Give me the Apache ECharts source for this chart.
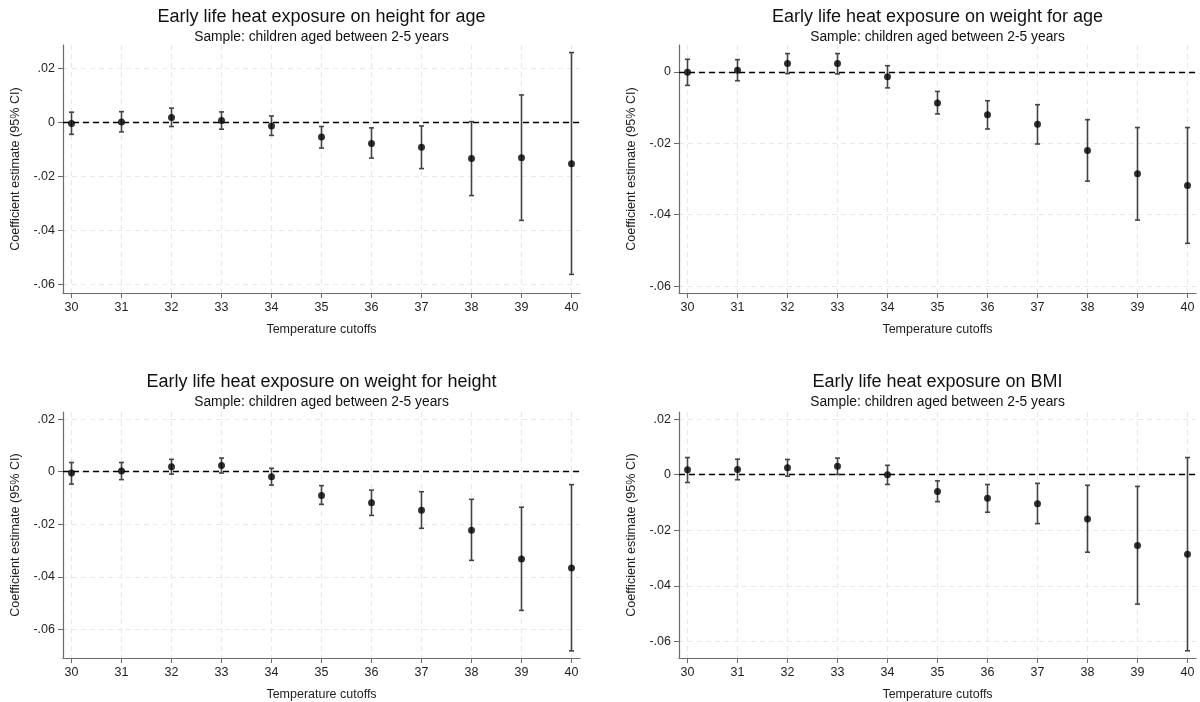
<!DOCTYPE html>
<html>
<head>
<meta charset="utf-8">
<script src="https://cdn.jsdelivr.net/npm/echarts@6/dist/echarts.min.js"></script>
<style>
  html, body { margin: 0; padding: 0; background: #fff; }
  #main { width: 1200px; height: 702px; }
</style>
</head>
<body>
<div id="main"></div>
<script>
// temperature cutoffs on the x axis
const cutoffs = [30, 31, 32, 33, 34, 35, 36, 37, 38, 39, 40];

// height for age
const hfaEst = [-0.0005, 0.0001, 0.0017, 0.0006, -0.0014, -0.0055, -0.0079, -0.0093, -0.0135, -0.0132, -0.0154];
const hfaLo  = [-0.0045, -0.0036, -0.0016, -0.0026, -0.0049, -0.0096, -0.0133, -0.0172, -0.0272, -0.0364, -0.0564];
const hfaHi  = [0.0037, 0.0039, 0.0052, 0.0038, 0.0023, -0.0016, -0.0021, -0.0014, 0.0002, 0.0101, 0.0258];

// weight for age
const wfaEst = [-0.0001, 0.0004, 0.0023, 0.0023, -0.0014, -0.0087, -0.0120, -0.0147, -0.0220, -0.0285, -0.0318];
const wfaLo  = [-0.0038, -0.0025, -0.0005, -0.0006, -0.0045, -0.0118, -0.0160, -0.0202, -0.0306, -0.0415, -0.0480];
const wfaHi  = [0.0035, 0.0034, 0.0051, 0.0051, 0.0017, -0.0055, -0.0081, -0.0092, -0.0134, -0.0156, -0.0156];

// weight for height
const wfhEst = [-0.0005, 0.0003, 0.0019, 0.0024, -0.0019, -0.0090, -0.0118, -0.0146, -0.0222, -0.0332, -0.0366];
const wfhLo  = [-0.0047, -0.0030, -0.0009, -0.0005, -0.0051, -0.0124, -0.0166, -0.0215, -0.0337, -0.0527, -0.0681];
const wfhHi  = [0.0035, 0.0035, 0.0047, 0.0052, 0.0013, -0.0053, -0.0070, -0.0076, -0.0105, -0.0135, -0.0049];

// BMI
const bmiEst = [0.0018, 0.0019, 0.0025, 0.0031, 0.0000, -0.0060, -0.0085, -0.0104, -0.0159, -0.0255, -0.0286];
const bmiLo  = [-0.0028, -0.0018, -0.0005, 0.0001, -0.0035, -0.0097, -0.0135, -0.0176, -0.0279, -0.0466, -0.0634];
const bmiHi  = [0.0062, 0.0056, 0.0055, 0.0060, 0.0034, -0.0022, -0.0035, -0.0031, -0.0038, -0.0042, 0.0062];

// tick labels
const yTicksFull = [-0.06, -0.04, -0.02, 0, 0.02];
const yTicksWfa  = [-0.06, -0.04, -0.02, 0];

const titles = [
  'Early life heat exposure on height for age',
  'Early life heat exposure on weight for age',
  'Early life heat exposure on weight for height',
  'Early life heat exposure on BMI'
];
const subtitle = 'Sample: children aged between 2-5 years';
const xName = 'Temperature cutoffs';
const yName = 'Coefficient estimate (95% CI)';

const panels = [
  { est: hfaEst, lo: hfaLo, hi: hfaHi, ticks: yTicksFull, min: -0.0633, max: 0.0286, left: 63,  top: 45,  titleTop: 8.5 },
  { est: wfaEst, lo: wfaLo, hi: wfaHi, ticks: yTicksWfa,  min: -0.0619, max: 0.0075, left: 679, top: 45,  titleTop: 8.5 },
  { est: wfhEst, lo: wfhLo, hi: wfhHi, ticks: yTicksFull, min: -0.0708, max: 0.0227, left: 63,  top: 412, titleTop: 373.5 },
  { est: bmiEst, lo: bmiLo, hi: bmiHi, ticks: yTicksFull, min: -0.0660, max: 0.0226, left: 679, top: 412, titleTop: 373.5 }
];

const font = 'Liberation Sans, Arial, sans-serif';
const axisGray = '#6b6b6b';
const gridGray = '#e9e9e9';
const textCol = '#1e1e1e';

function fmt(v) {
  if (Math.abs(v) < 1e-9) return '0';
  return v.toFixed(2).replace('0.', '.');
}

function errorBar(params, api) {
  const x = api.value(0);
  const p1 = api.coord([x, api.value(1)]);
  const p2 = api.coord([x, api.value(2)]);
  const cap = 2.5;
  const style = { stroke: '#444', lineWidth: 1.6 };
  return {
    type: 'group',
    children: [
      { type: 'line', shape: { x1: p1[0], y1: p1[1], x2: p2[0], y2: p2[1] }, style: style },
      { type: 'line', shape: { x1: p1[0] - cap, y1: p1[1], x2: p1[0] + cap, y2: p1[1] }, style: style },
      { type: 'line', shape: { x1: p2[0] - cap, y1: p2[1], x2: p2[0] + cap, y2: p2[1] }, style: style }
    ]
  };
}

const option = {
  backgroundColor: '#fff',
  animation: false,
  textStyle: { fontFamily: font },
  title: [],
  grid: [],
  xAxis: [],
  yAxis: [],
  series: []
};

panels.forEach(function (p, i) {
  option.title.push({
    text: titles[i],
    subtext: subtitle,
    left: p.left + 258.5,
    top: p.titleTop,
    textAlign: 'center',
    padding: 0,
    itemGap: 4,
    textStyle: { fontFamily: font, fontSize: 18, fontWeight: 'normal', color: '#111' },
    subtextStyle: { fontFamily: font, fontSize: 13.8, color: '#111' }
  });
  option.grid.push({ left: p.left, top: p.top, width: 517, height: p.top === 45 ? 248 : 247 });
  option.xAxis.push({
    type: 'value',
    gridIndex: i,
    min: 29.83,
    max: 40.17,
    name: xName,
    nameLocation: 'middle',
    nameGap: 30,
    nameTextStyle: { fontFamily: font, fontSize: 12.5, color: textCol },
    axisLine: { onZero: false, lineStyle: { color: axisGray, width: 1.2 } },
    axisTick: { show: true, length: 5, customValues: cutoffs, lineStyle: { color: axisGray } },
    axisLabel: { customValues: cutoffs, margin: 8, fontSize: 12.5, color: textCol, fontFamily: font },
    splitLine: { show: true, lineStyle: { color: gridGray, type: [5, 4], width: 1.2 } }
  });
  option.yAxis.push({
    type: 'value',
    gridIndex: i,
    min: p.min,
    max: p.max,
    name: yName,
    nameLocation: 'middle',
    nameGap: 41,
    nameTextStyle: { fontFamily: font, fontSize: 12.6, color: textCol },
    axisLine: { show: true, onZero: false, lineStyle: { color: axisGray, width: 1.2 } },
    axisTick: { show: true, length: 5, customValues: p.ticks, lineStyle: { color: axisGray } },
    axisLabel: { customValues: p.ticks, margin: 8, fontSize: 12.5, color: textCol, fontFamily: font, formatter: fmt },
    splitLine: { show: true, lineStyle: { color: gridGray, type: [5, 4], width: 1.2 } }
  });
  option.series.push({
    type: 'custom',
    xAxisIndex: i,
    yAxisIndex: i,
    renderItem: errorBar,
    encode: { x: 0, y: [1, 2] },
    data: cutoffs.map(function (c, k) { return [c, p.lo[k], p.hi[k]]; }),
    z: 3
  });
  option.series.push({
    type: 'scatter',
    xAxisIndex: i,
    yAxisIndex: i,
    symbol: 'circle',
    symbolSize: 7,
    itemStyle: { color: '#000' },
    data: cutoffs.map(function (c, k) { return [c, p.est[k]]; }),
    z: 4,
    markLine: {
      silent: true,
      symbol: 'none',
      label: { show: false },
      lineStyle: { color: '#000', type: [6, 4], width: 1.3 },
      data: [{ yAxis: 0 }],
      z: 2
    }
  });
});

const chart = echarts.init(document.getElementById('main'));
chart.setOption(option);
</script>
</body>
</html>
